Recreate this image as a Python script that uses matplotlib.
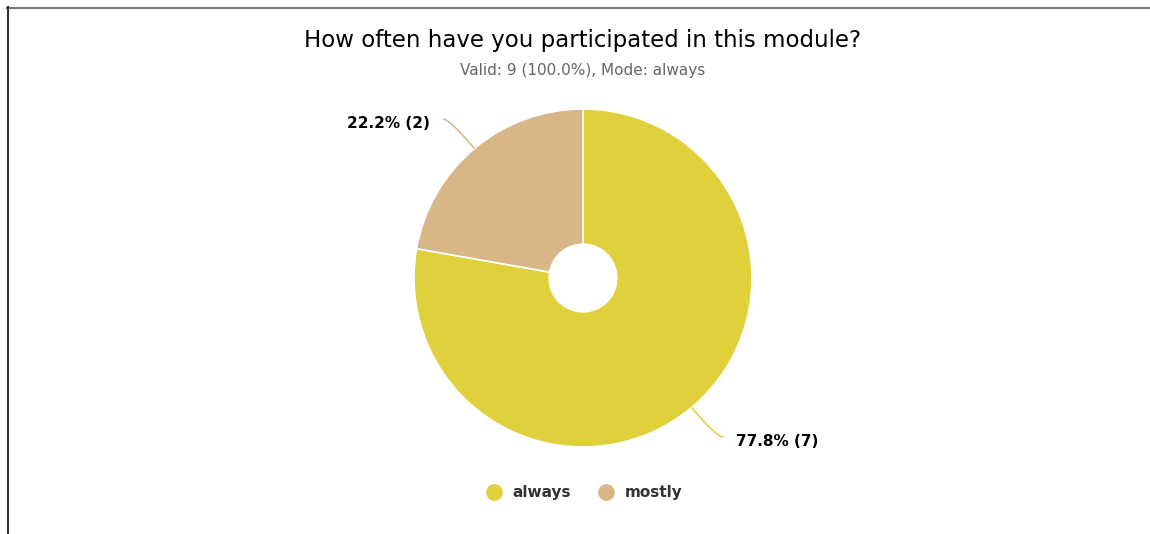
import numpy as np
import matplotlib.pyplot as plt
from matplotlib.lines import Line2D
from matplotlib.path import Path
from matplotlib.patches import PathPatch

categories = ['always', 'mostly']
counts = [7, 2]
colors = ['#DFD03C', '#D8B687']
title = 'How often have you participated in this module?'
subtitle = 'Valid: 9 (100.0%), Mode: always'

W, H = 1150, 534
cx, cy, R = 583, 278, 169  # pie centre/radius in pixels


def main():
    fig = plt.figure(figsize=(W / 100, H / 100), dpi=100)
    ax = fig.add_axes([0, 0, 1, 1])

    wedges, _ = ax.pie(counts, colors=colors, startangle=90, counterclock=False,
                       radius=1, wedgeprops=dict(width=0.8, edgecolor='white', linewidth=1.2))
    ax.set_xlim(-cx / R, (W - cx) / R)
    ax.set_ylim(-(H - cy) / R, cy / R)
    ax.set_aspect('auto')
    ax.axis('off')

    total = sum(counts)
    for w, n, col in zip(wedges, counts, colors):
        mid = np.deg2rad((w.theta1 + w.theta2) / 2)
        c, s = np.cos(mid), np.sin(mid)
        start = (c, s)
        ey = s * 1.228
        ctrl = (c * 1.228, ey)
        end = (ctrl[0] + np.sign(c) * 0.04, ey)
        p = Path([start, ctrl, end], [Path.MOVETO, Path.CURVE3, Path.CURVE3])
        ax.add_patch(PathPatch(p, fill=False, edgecolor=col, lw=1.1))
        label = f'{n / total * 100:.1f}% ({n})'
        ha = 'left' if c > 0 else 'right'
        ax.text(end[0] + np.sign(c) * 0.075, ey - 0.024, label, ha=ha, va='center',
                fontsize=11, fontweight='bold', color='black')

    fig.text(582.5 / W, 1 - 40 / H, title, ha='center', va='center', fontsize=16.5, color='black')
    fig.text(583 / W, 1 - 70 / H, subtitle, ha='center', va='center', fontsize=11, color='#666666')

    handles = [Line2D([], [], marker='o', linestyle='none', markersize=11,
                      markerfacecolor=c, markeredgecolor=c) for c in colors]
    leg = fig.legend(handles, categories, loc='center', bbox_to_anchor=(580.5 / W, 1 - 493 / H),
                     ncol=2, frameon=False, handletextpad=0.2, columnspacing=1.35,
                     prop=dict(size=11, weight='bold'))
    for t in leg.get_texts():
        t.set_color('#333333')

    fig.add_artist(Line2D([7 / W, 1], [1 - 7.5 / H, 1 - 7.5 / H], color='#777777', lw=1.5))
    fig.add_artist(Line2D([7.5 / W, 7.5 / W], [0, 1 - 7 / H], color='#333333', lw=1.5))

    fig.savefig('out.png', dpi=100)


if __name__ == '__main__':
    main()
